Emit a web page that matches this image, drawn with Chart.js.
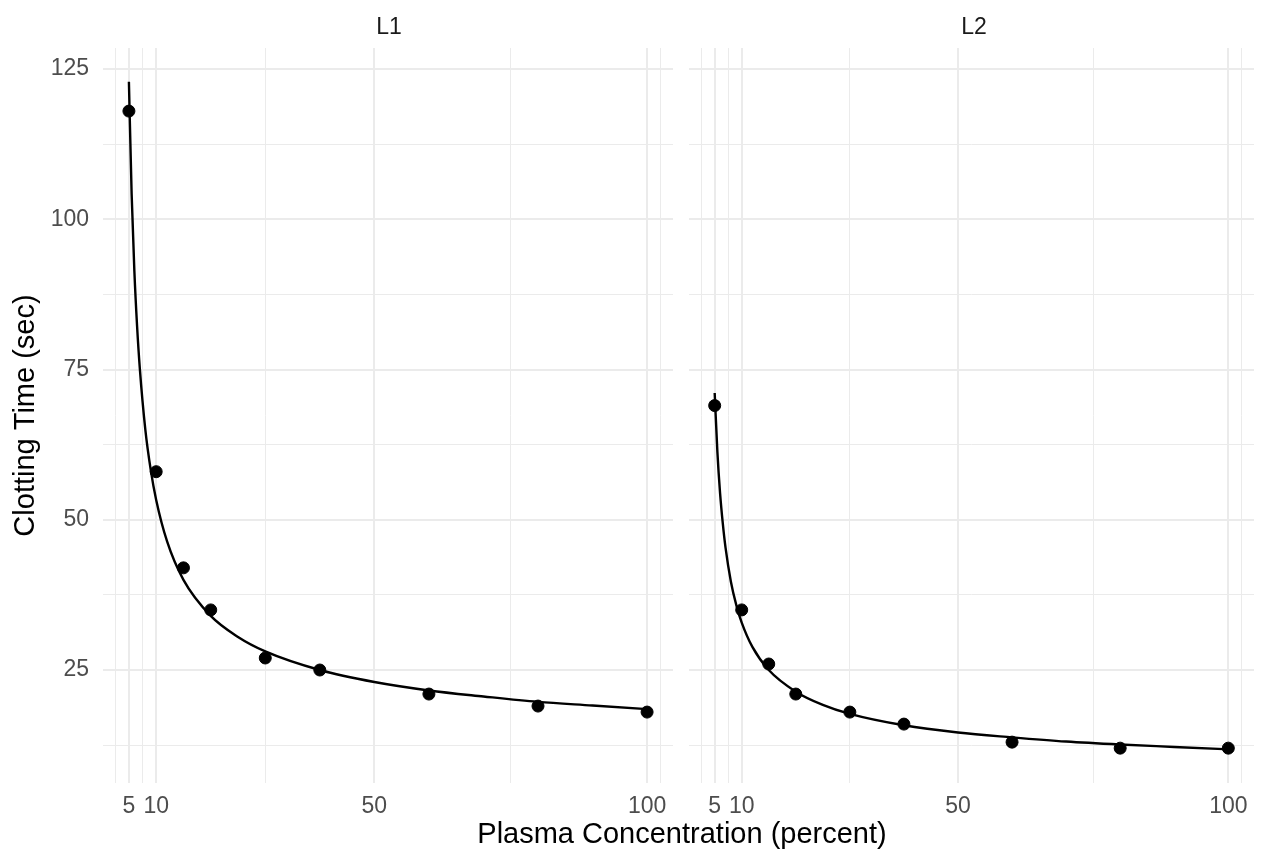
<!DOCTYPE html>
<html>
<head>
<meta charset="utf-8">
<script src="https://cdn.jsdelivr.net/npm/chart.js@4.4.1/dist/chart.umd.min.js"></script>
<style>
  body { margin: 0; background: #fff; font-family: "Liberation Sans", Arial, sans-serif; overflow: hidden; }
  #wrap { position: relative; width: 1261px; height: 854px; }
  canvas { position: absolute; top: 0; }
  .strip, .xtitle { position: absolute; transform: translate(-50%, -50%); white-space: nowrap; }
  .strip { font-size: 23px; color: #1A1A1A; }
  .xtitle { font-size: 29px; color: #000; }
</style>
</head>
<body>
<div id="wrap">
  <canvas id="lot1Chart" width="680" height="854" style="left:0"></canvas>
  <canvas id="lot2Chart" width="581" height="854" style="left:680px"></canvas>
  <div class="strip" style="left:389px; top:26px">L1</div>
  <div class="strip" style="left:974px; top:26px">L2</div>
  <div class="xtitle" style="left:682px; top:833px">Plasma Concentration (percent)</div>
</div>
<script>
// observed data
const conc = [5, 10, 15, 20, 30, 40, 60, 80, 100];
const lot1 = [118, 58, 42, 35, 27, 25, 21, 19, 18];
const lot2 = [69, 35, 26, 21, 18, 16, 13, 12, 12];

// fitted curves
const fitConc = [5, 5.5, 6, 6.5, 7, 8, 9, 10, 12, 15, 20, 25, 30, 40, 50, 60, 70, 80, 90, 100];
const fit1 = [122.9, 104.2, 91.4, 82.2, 75.2, 65.1, 58.3, 53.3, 46.4, 40.0, 34.0, 30.5, 28.1, 25.0, 23.0, 21.6, 20.6, 19.7, 19.1, 18.5];
const fit2 = [71.1, 61.3, 54.4, 49.4, 45.4, 39.7, 35.8, 32.9, 28.8, 25.0, 21.4, 19.2, 17.7, 15.8, 14.6, 13.8, 13.1, 12.6, 12.2, 11.8];

// axis breaks
const xMajor = [5, 10, 50, 100];
const xMinor = [2.5, 7.5, 30, 75, 102.5];
const yMajor = [25, 50, 75, 100, 125];
const yMinor = [12.5, 37.5, 62.5, 87.5, 112.5];

const gridColor = '#EBEBEB';
const tickColor = '#4D4D4D';
const font = "'Liberation Sans', Arial, sans-serif";

const pairs = (xs, ys) => xs.map((x, i) => ({ x: x, y: ys[i] }));

function makeChart(id, obs, fit, showY) {
    const ctx = document.getElementById(id).getContext('2d');
    return new Chart(ctx, {
        type: 'scatter',
        data: {
            datasets: [
                {
                    data: pairs(fitConc, fit),
                    showLine: true,
                    borderColor: '#000',
                    borderWidth: 2.4,
                    pointRadius: 0,
                    cubicInterpolationMode: 'monotone'
                },
                {
                    data: pairs(conc, obs),
                    backgroundColor: '#000',
                    borderColor: '#000',
                    pointRadius: 6,
                    showLine: false
                }
            ]
        },
        options: {
            responsive: false,
            animation: false,
            layout: { padding: { top: 48, right: showY ? 6 : 2, left: showY ? 0 : 9, bottom: 0 } },
            plugins: { legend: { display: false }, tooltip: { enabled: false } },
            scales: {
                x: {
                    type: 'linear',
                    min: 0.25,
                    max: 104.75,
                    border: { display: false },
                    afterBuildTicks: s => { s.ticks = xMinor.concat(xMajor).sort((a, b) => a - b).map(v => ({ value: v })); },
                    afterFit: s => { s.height = 71; s.paddingLeft = 0; s.paddingRight = 0; },
                    grid: {
                        color: gridColor,
                        drawTicks: false,
                        lineWidth: c => xMajor.includes(c.tick.value) ? 2 : 1
                    },
                    ticks: {
                        autoSkip: false,
                        maxRotation: 0,
                        padding: 10,
                        color: tickColor,
                        font: { size: 23, family: font },
                        callback: v => xMajor.includes(v) ? String(v) : ''
                    }
                },
                y: {
                    type: 'linear',
                    min: 6.2,
                    max: 128.5,
                    border: { display: false },
                    afterBuildTicks: s => { s.ticks = yMinor.concat(yMajor).sort((a, b) => a - b).map(v => ({ value: v })); },
                    afterFit: s => { s.width = showY ? 103 : 0; s.paddingTop = 0; s.paddingBottom = 0; },
                    grid: {
                        color: gridColor,
                        drawTicks: false,
                        lineWidth: c => yMajor.includes(c.tick.value) ? 2 : 1
                    },
                    title: {
                        display: showY,
                        text: 'Clotting Time (sec)',
                        color: '#000',
                        font: { size: 29, family: font },
                        padding: { top: 9, bottom: 0 }
                    },
                    ticks: {
                        display: showY,
                        padding: 14,
                        color: tickColor,
                        font: { size: 23, family: font },
                        callback: v => yMajor.includes(v) ? String(v) : ''
                    }
                }
            }
        }
    });
}

makeChart('lot1Chart', lot1, fit1, true);
makeChart('lot2Chart', lot2, fit2, false);
</script>
</body>
</html>
